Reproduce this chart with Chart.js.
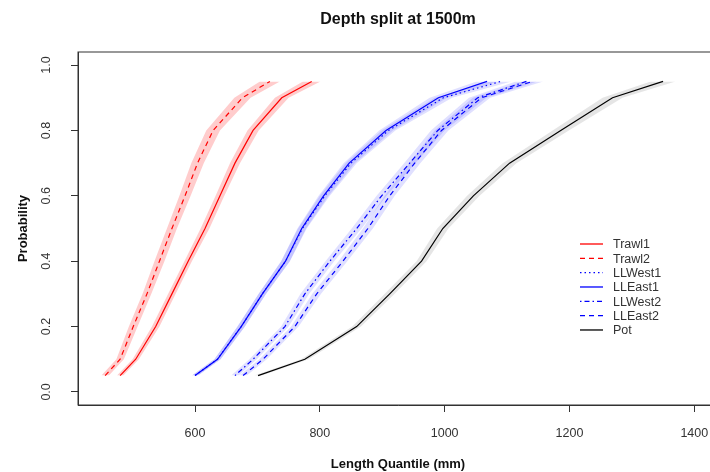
<!DOCTYPE html>
<html>
<head>
<meta charset="utf-8">
<script src="https://cdn.jsdelivr.net/npm/chart.js@4"></script>
<style>
  html, body { margin: 0; padding: 0; background: #fff; overflow: hidden; }
  #wrap { width: 730px; height: 472px; }
</style>
</head>
<body>
<div id="wrap"><canvas id="chart" width="730" height="472"></canvas></div>
<script>
const chartTitle = 'Depth split at 1500m';
const probs = [0.05, 0.1, 0.2, 0.3, 0.4, 0.5, 0.6, 0.7, 0.8, 0.9, 0.95];
const seriesNames = ['Trawl1', 'Trawl2', 'LLWest1', 'LLEast1', 'LLWest2', 'LLEast2', 'Pot'];

// length quantiles (mm) at each probability
const trawl1  = [480, 505, 537, 563, 589, 616, 640, 664, 693, 739, 787];
const trawl2  = [456, 480, 501, 523, 543, 563, 584, 604, 629, 676, 720];
const llWest1 = [600, 636, 674, 708, 745, 772, 808, 850, 910, 998, 1090];
const llEast1 = [600, 636, 674, 708, 745, 771, 806, 847, 906, 990, 1068];
const llWest2 = [664, 693, 744, 776, 816, 859, 899, 944, 989, 1053, 1131];
const llEast2 = [677, 709, 760, 795, 837, 877, 912, 952, 995, 1059, 1141];
const pot     = [701, 776, 859, 912, 963, 997, 1046, 1104, 1186, 1269, 1350];

// half width of the shaded interval (mm)
const trawl1Band  = [5, 5, 6, 6, 6, 7, 7, 8, 9, 11, 14];
const trawl2Band  = [6, 6, 7, 7, 8, 8, 9, 10, 11, 13, 16];
const llWest1Band = [5, 5, 6, 6, 7, 7, 8, 9, 11, 14, 17];
const llEast1Band = [5, 5, 6, 6, 7, 7, 8, 9, 11, 14, 17];
const llWest2Band = [6, 6, 6, 7, 7, 8, 8, 9, 11, 14, 17];
const llEast2Band = [6, 6, 6, 7, 7, 8, 8, 9, 11, 14, 17];
const potBand     = [6, 6, 7, 8, 8, 9, 10, 11, 13, 16, 20];

const xTicks = [600, 800, 1000, 1200, 1400];
const yTicks = [0, 0.2, 0.4, 0.6, 0.8, 1.0];

const FONT = '"Liberation Sans", Arial, sans-serif';
const RED_BAND = 'rgba(255,0,0,0.2)';
const BLUE_BAND = 'rgba(0,0,255,0.12)';
const GREY_BAND = 'rgba(0,0,0,0.1)';

const series = [
  { values: trawl1,  band: trawl1Band,  color: '#ff0000', fill: RED_BAND,  dash: [] },
  { values: trawl2,  band: trawl2Band,  color: '#ff0000', fill: RED_BAND,  dash: [5, 4] },
  { values: llWest1, band: llWest1Band, color: '#0000ff', fill: BLUE_BAND, dash: [1.5, 3] },
  { values: llEast1, band: llEast1Band, color: '#0000ff', fill: BLUE_BAND, dash: [] },
  { values: llWest2, band: llWest2Band, color: '#0000ff', fill: BLUE_BAND, dash: [1.5, 3, 5, 3] },
  { values: llEast2, band: llEast2Band, color: '#0000ff', fill: BLUE_BAND, dash: [5, 4] },
  { values: pot,     band: potBand,     color: '#000000', fill: GREY_BAND, dash: [] }
];

const datasets = [];
series.forEach(s => {
  const lo = datasets.length;
  datasets.push({
    data: probs.map((p, i) => ({ x: s.values[i] - s.band[i], y: p })),
    borderColor: 'rgba(0,0,0,0)', pointRadius: 0, fill: false, band: true
  });
  datasets.push({
    data: probs.map((p, i) => ({ x: s.values[i] + s.band[i], y: p })),
    borderColor: 'rgba(0,0,0,0)', pointRadius: 0, fill: lo, backgroundColor: s.fill, band: true
  });
});
series.forEach((s, k) => {
  datasets.push({
    label: seriesNames[k],
    data: probs.map((p, i) => ({ x: s.values[i], y: p })),
    borderColor: s.color, borderWidth: 1.2, borderDash: s.dash,
    pointRadius: 0, fill: false, tension: 0
  });
});

const decor = {
  id: 'decor',
  afterDraw(chart) {
    const { ctx, chartArea: a } = chart;
    const ys = chart.scales.y;
    ctx.save();
    ctx.strokeStyle = '#333';
    ctx.lineWidth = 1;
    ctx.strokeRect(a.left, a.top, a.right - a.left, a.bottom - a.top);

    ctx.fillStyle = '#111';
    ctx.font = 'bold 16px ' + FONT;
    ctx.textAlign = 'center';
    ctx.textBaseline = 'middle';
    ctx.fillText(chartTitle, (a.left + a.right) / 2, 20);

    ctx.fillStyle = '#333';
    ctx.font = '12.5px ' + FONT;
    yTicks.forEach(v => {
      ctx.save();
      ctx.translate(47, ys.getPixelForValue(v));
      ctx.rotate(-Math.PI / 2);
      ctx.fillText(v.toFixed(1), 0, 0);
      ctx.restore();
    });

    // legend
    const lines = chart.data.datasets.filter(d => !d.band);
    ctx.textAlign = 'left';
    lines.forEach((d, i) => {
      const y = 244 + i * 14.33;
      ctx.strokeStyle = d.borderColor;
      ctx.lineWidth = 1.3;
      ctx.setLineDash(d.borderDash);
      ctx.beginPath();
      ctx.moveTo(580, y);
      ctx.lineTo(603, y);
      ctx.stroke();
      ctx.fillText(d.label, 613, y + 1);
    });
    ctx.restore();
  }
};

new Chart(document.getElementById('chart'), {
  type: 'line',
  data: { datasets },
  options: {
    indexAxis: 'y',
    responsive: false,
    animation: false,
    events: [],
    layout: { padding: { top: 52, right: 12, left: 0, bottom: 0 } },
    plugins: {
      legend: { display: false },
      tooltip: { enabled: false },
      filler: { drawTime: 'beforeDatasetsDraw' }
    },
    scales: {
      x: {
        type: 'linear', position: 'bottom', min: 412.5, max: 1438,
        afterBuildTicks: sc => { sc.ticks = xTicks.map(v => ({ value: v })); },
        afterFit: sc => { sc.height = 67; },
        ticks: { color: '#333', font: { family: FONT, size: 12.5 }, padding: 14, maxRotation: 0, autoSkip: false, callback: v => String(v) },
        grid: { drawOnChartArea: false, drawTicks: true, tickLength: 7, color: '#333' },
        border: { color: '#333' },
        title: { display: true, text: 'Length Quantile (mm)', color: '#111', font: { family: FONT, size: 13, weight: 'bold' }, padding: { top: 0, bottom: 0 } }
      },
      y: {
        type: 'linear', position: 'left', min: -0.04, max: 1.04,
        afterBuildTicks: sc => { sc.ticks = yTicks.map(v => ({ value: v })); },
        afterFit: sc => { sc.width = 78; },
        ticks: { display: false },
        grid: { drawOnChartArea: false, drawTicks: true, tickLength: 7, color: '#333' },
        border: { color: '#333' },
        title: { display: true, text: 'Probability', color: '#111', font: { family: FONT, size: 13, weight: 'bold' }, padding: { top: 16, bottom: 0 } }
      }
    }
  },
  plugins: [decor]
});
</script>
</body>
</html>
